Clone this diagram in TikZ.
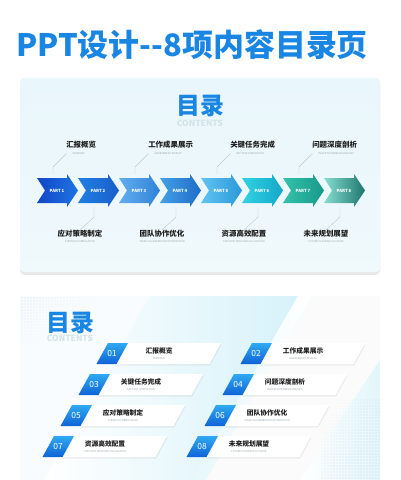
\documentclass[tikz,border=0pt]{standalone}
\usepackage{fontspec}
\setmainfont{Noto Sans CJK SC}
\usetikzlibrary{shadows,positioning}

\definecolor{mainblue}{HTML}{1A86E3}
\definecolor{cardtop}{HTML}{E9F6FB}
\definecolor{cardbot}{HTML}{F0F9FC}
\definecolor{leadgray}{HTML}{B9C9D1}
\definecolor{inkdark}{HTML}{1E1E1E}
\definecolor{subgray}{HTML}{9AA6AD}
\definecolor{tablight}{HTML}{2FAAF2}
\definecolor{tabdark}{HTML}{0F63D6}
\definecolor{ghost}{HTML}{D2E3EA}
\definecolor{dotcol}{HTML}{B8CCDC}
\definecolor{bandcyan}{HTML}{D6F2FA}

\tikzset{
  toptitle/.style={font=\fontsize{5.3}{6}\selectfont\bfseries, text=inkdark, inner sep=0pt},
  subtitle/.style={font=\fontsize{1.8}{2}\selectfont, text=subgray, inner sep=0pt},
  leader/.style={draw=leadgray, line width=0.3pt},
  parttext/.style={font=\fontsize{3}{3.5}\selectfont\bfseries, text=white, inner sep=0pt},
  itemtitle/.style={font=\fontsize{4.8}{5.5}\selectfont\bfseries, text=inkdark, inner sep=0pt},
  numtext/.style={font=\fontsize{6}{7}\selectfont, text=white, inner sep=0pt},
  ghosttext/.style={font=\fontsize{6}{7}\selectfont\bfseries, text=ghost, inner sep=0pt},
  dotmark/.style={circle, fill=leadgray, inner sep=0pt, minimum size=0.8pt},
  bigtitle/.style={font=\fontsize{17}{18}\selectfont\bfseries, text=mainblue, inner sep=0pt},
}

\begin{document}
\begin{tikzpicture}[x=0.25mm, y=-0.25mm]
	\useasboundingbox (0,0) rectangle (400,480);
	\fill[white] (0,0) rectangle (400,480);

	% Title
	\node[font=\fontsize{22}{24}\selectfont\bfseries, text=mainblue, inner sep=0pt] (title) at (192,45) {PPT设计-{}-8项内容目录页};

	% Upper card
	\fill[cardtop, rounded corners=3pt, drop shadow={opacity=0.18, shadow yshift=-2pt, shadow xshift=0pt}] (20,78) rectangle (380,272);
	\shade[rounded corners=3pt, top color=cardtop, bottom color=cardbot] (20,78) rectangle (380,272);
	\node[ghosttext] (ghostA) at (200,123) {CONTENTS};
	\node[bigtitle] (headA) at (200,106) {目录};

	% Chevrons
	\foreach \i/\cl/\cr in {1/1346C8/1D74E3, 2/1F7FE4/1A5FCB, 3/62ADEE/2F83D9, 4/43A0E6/1E6CC9,
	                        5/62C4F2/2A98D8, 6/31D2E2/14A7C9, 7/33C2AA/18998A, 8/86DCD0/1D766D}{
		\pgfmathsetmacro\xa{37+41*(\i-1)}
		\definecolor{al}{HTML}{\cl}\definecolor{ar}{HTML}{\cr}
		\shade[left color=al, right color=ar] (\xa,178) -- (\xa+30,178) -- (\xa+30,174) -- (\xa+41,190.5)
			-- (\xa+30,207) -- (\xa+30,203) -- (\xa,203) -- (\xa+8,190.5) -- cycle;
		\node[parttext] (p\i) at (\xa+20,190.5) {PART \i};
	}

	% Labels above
	\foreach \i/\name/\sub in {1/汇报概览/OVERVIEW, 3/工作成果展示/ACHIEVEMENT DISPLAY,
	                           5/关键任务完成/KEY TASK COMPLETION, 7/问题深度剖析/IN-DEPTH PROBLEM ANALYSIS}{
		\pgfmathsetmacro\xl{37+41*(\i-1)+16}
		\coordinate (ua\i) at (\xl,174);
		\coordinate (ub\i) at (\xl,167);
		\node[dotmark] (ud\i) at (\xl+13,154) {};
		\node[toptitle, anchor=west] (ut\i) at (\xl+13,145) {\name};
		\node[subtitle, anchor=west] (us\i) at (\xl+19,154) {\sub};
		\draw[leader] (ua\i) -- (ub\i) -- (ud\i);
	}

	% Labels below
	\foreach \i/\name/\sub in {2/应对策略制定/STRATEGY FORMULATION, 4/团队协作优化/TEAM COLLABORATION OPTIMIZATION,
	                           6/资源高效配置/EFFICIENT RESOURCE ALLOCATION, 8/未来规划展望/FUTURE PLANNING OUTLOOK}{
		\pgfmathsetmacro\xl{37+41*(\i-1)+16}
		\coordinate (la\i) at (\xl,207);
		\coordinate (lb\i) at (\xl,217);
		\coordinate (lc\i) at (\xl-14,230);
		\node[toptitle, anchor=north] (lt\i) at (lc\i) {\name};
		\node[subtitle, below=0.7mm of lt\i] (ls\i) {\sub};
		\draw[leader] (la\i) -- (lb\i) -- (lc\i);
	}

	% Lower card
	\fill[white, drop shadow={opacity=0.15, shadow yshift=-1pt, shadow xshift=0pt}] (20,296) rectangle (380,490);
	\begin{scope}
		\clip (20,296) rectangle (380,480);
		\fill[white!70!cardtop] (20,296) rectangle (380,480);
		\shade[left color=white, right color=bandcyan] (150,296) -- (298,296) -- (192,480) -- (44,480) -- cycle;
		\shade[left color=bandcyan!60, right color=white] (298,296) -- (312,296) -- (206,480) -- (192,480) -- cycle;
		\fill[white!60!gray!8] (312,296) -- (380,296) -- (380,480) -- (206,480) -- cycle;
		\shade[left color=white, right color=bandcyan!70] (300,480) -- (380,360) -- (380,480) -- cycle;
		% dot screens
		\foreach \x in {22,25,...,100}{
			\foreach \y in {298,301,...,346}{
				\pgfmathsetmacro\op{max(0,0.75-(\x-22)/105-(\y-298)/75)}
				\fill[dotcol, opacity=\op] (\x,\y) circle (0.45pt);
			}
		}
		\foreach \x in {322,325,...,379}{
			\foreach \y in {400,403,...,478}{
				\pgfmathsetmacro\op{max(0,min(0.7,(\x-322)/90+(\y-400)/130-0.1))}
				\fill[dotcol, opacity=\op] (\x,\y) circle (0.45pt);
			}
		}
	\end{scope}
	\node[ghosttext] (ghostB) at (70,338) {CONTENTS};
	\node[bigtitle] (headB) at (70,323) {目录};

	% Items
	\foreach \n/\T/\Y/\name/\sub in {01/108/343/汇报概览/OVERVIEW, 02/252/343/工作成果展示/ACHIEVEMENT DISPLAY,
	                                 03/90/374/关键任务完成/KEY TASK COMPLETION, 04/234/374/问题深度剖析/IN-DEPTH PROBLEM ANALYSIS,
	                                 05/72/405/应对策略制定/STRATEGY FORMULATION, 06/216/405/团队协作优化/TEAM COLLABORATION OPTIMIZATION,
	                                 07/54/436/资源高效配置/EFFICIENT RESOURCE ALLOCATION, 08/198/436/未来规划展望/FUTURE PLANNING OUTLOOK}{
		\path[fill=white, drop shadow={opacity=0.12, shadow yshift=-1.2pt, shadow xshift=0.4pt}]
			(\T+20,\Y) -- (\T+113,\Y) -- (\T+101.5,\Y+21) -- (\T+8.5,\Y+21) -- cycle;
		\shade[top color=tablight, bottom color=tabdark] (\T,\Y) -- (\T+20,\Y) -- (\T+8.5,\Y+21) -- (\T-11.5,\Y+21) -- cycle;
		\node[numtext] (n\n) at (\T+4,\Y+10.5) {\n};
		\node[itemtitle] (it\n) at (\T+51,\Y+8) {\name};
		\node[subtitle, below=0.6mm of it\n] (is\n) {\sub};
	}
\end{tikzpicture}
\end{document}
